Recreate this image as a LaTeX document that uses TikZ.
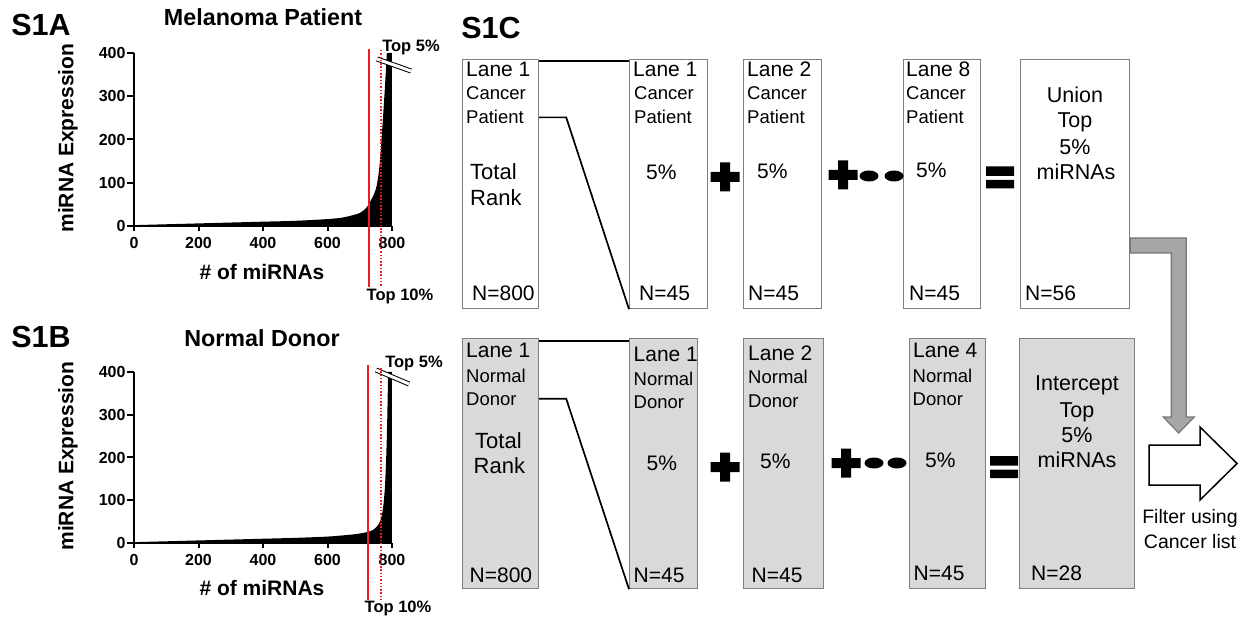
\documentclass[tikz,border=0pt]{standalone}
\usepackage{fontspec}
\setmainfont{Liberation Sans}
\definecolor{boxfill}{RGB}{217,217,217}
\definecolor{boxedge}{RGB}{127,127,127}
\definecolor{bendfill}{RGB}{166,166,166}
\definecolor{bendedge}{RGB}{118,118,118}
\definecolor{cutred}{RGB}{237,28,36}

\newcommand{\plusmark}[1]{\fill[shift={#1}] (-14.5,-5) rectangle (14.5,5) (-5,-14.5) rectangle (5,14.5);}
\newcommand{\eqmark}[1]{\fill[shift={#1}] (-14,-11) rectangle (14,-1.5) (-14,2.5) rectangle (14,11);}
\newcommand{\dotmark}[1]{\fill[shift={#1}] (0,0) ellipse [x radius=9.5, y radius=5.5];}

\begin{document}
\begin{tikzpicture}[x=1pt,y=-1pt,
  plotaxis/.style={line width=2pt},
  ticklbl/.style={font=\bfseries\fontsize{16}{16}\selectfont, inner sep=0},
  plotlbl/.style={font=\bfseries\fontsize{21}{21}\selectfont},
  plottitle/.style={font=\bfseries\fontsize{23.3}{24}\selectfont},
  panel/.style={font=\bfseries\fontsize{30.5}{31}\selectfont},
  toplbl/.style={font=\bfseries\fontsize{16.5}{17}\selectfont, inner sep=0},
  redline/.style={cutred, line width=2pt},
  reddots/.style={cutred, line width=1.5pt, dash pattern=on 1.5pt off 1.8pt},
  brk/.style={line width=1pt, double=white, double distance=3pt},
  cbox/.style={draw=boxedge, line width=1.2pt, fill=white, anchor=north west, inner sep=0},
  nbox/.style={cbox, fill=boxfill},
  lane/.style={anchor=base west, inner sep=0, font=\fontsize{21}{21}\selectfont},
  who/.style={anchor=base west, inner sep=0, font=\fontsize{18.5}{18.5}\selectfont},
  rank/.style={anchor=base west, inner sep=0, font=\fontsize{22}{22}\selectfont},
  pct/.style={anchor=base west, inner sep=0, font=\fontsize{21}{21}\selectfont},
  union/.style={anchor=base, inner sep=0, font=\fontsize{21.5}{21.5}\selectfont},
  link/.style={line width=1.7pt},
  grayturn/.style={draw=bendedge, fill=bendfill, line width=1.2pt},
  ]
\useasboundingbox (0,0) rectangle (1248,620);

% S1A
\node[panel] (pA) at (41,25) {S1A};
\node[plottitle] (hA) at (263,17) {Melanoma Patient};
\node[plotlbl, rotate=90] (yA) at (68,138) {miRNA Expression};
\node[plotlbl] (xA) at (262,272) {\# of miRNAs};
\begin{scope}[shift={(134,226)}, x=0.3225pt, y=0.4325pt]
  \fill plot[smooth, tension=0.5] coordinates {(0,2) (100,4) (200,6) (300,8) (400,10) (500,12) (600,16) (650,20) (700,30) (720,42) (730,53) (745,75) (753,95) (760,130) (766,183) (772,250) (778,320) (784,400)} -- (800,400) -- (800,0) -- (0,0) -- cycle;
  \draw[plotaxis] (0,400) -- (0,0) -- (800,0);
  \foreach \v in {0,100,...,400}
    \draw[plotaxis] (0,\v) -- ++(-7pt,0) node[left=0.5pt, ticklbl] (yA\v) {\v};
  \foreach \v in {0,200,...,800}
    \draw[plotaxis] (\v,0) -- ++(0,-5pt) node[below=5pt, ticklbl] (xA\v) {\v};
\end{scope}
\draw[brk] (377,59) -- (411,71);
\draw[redline] (369,49) -- (369,287);
\draw[reddots] (381,50) -- (381,287);
\node[toplbl] (fA) at (411,47) {Top 5\%};
\node[toplbl] (gA) at (400,296) {Top 10\%};

% S1B
\node[panel] (pB) at (41,337) {S1B};
\node[plottitle] (hB) at (262,338) {Normal Donor};
\node[plotlbl, rotate=90] (yB) at (68,456) {miRNA Expression};
\node[plotlbl] (xB) at (262,588) {\# of miRNAs};
\begin{scope}[shift={(134,543)}, x=0.3225pt, y=0.4275pt]
  \fill plot[smooth, tension=0.5] coordinates {(0,2) (100,4) (200,6) (300,8) (400,10) (500,12) (600,15) (650,18) (690,21) (720,25) (740,30) (755,40) (765,55) (772,80) (778,130) (782,200) (785,280) (788,400)} -- (800,400) -- (800,0) -- (0,0) -- cycle;
  \draw[plotaxis] (0,400) -- (0,0) -- (800,0);
  \foreach \v in {0,100,...,400}
    \draw[plotaxis] (0,\v) -- ++(-7pt,0) node[left=0.5pt, ticklbl] (yB\v) {\v};
  \foreach \v in {0,200,...,800}
    \draw[plotaxis] (\v,0) -- ++(0,-5pt) node[below=5pt, ticklbl] (xB\v) {\v};
\end{scope}
\draw[brk] (376,370) -- (409,384);
\draw[redline] (368,365) -- (368,600);
\draw[reddots] (381,368) -- (381,600);
\node[toplbl] (fB) at (414,363) {Top 5\%};
\node[toplbl] (gB) at (398,608) {Top 10\%};

% S1C
\node[panel] (pC) at (491,28) {S1C};

% cancer patient row
\node[cbox, minimum width=76, minimum height=249] (t1) at (462,59) {};
\node[cbox, minimum width=78, minimum height=249] (t2) at (629,59) {};
\node[cbox, minimum width=78, minimum height=249] (t3) at (743,59) {};
\node[cbox, minimum width=77, minimum height=249] (t4) at (903,59) {};
\node[cbox, minimum width=109, minimum height=249] (t5) at (1020,59) {};

\node[lane] (t1lane) at (466,77) {Lane 1};
\node[who] (t1who) at (466,100) {Cancer};
\node[who] (t1pat) at (466,124) {Patient};
\node[rank] (t1tot) at (470,180) {Total};
\node[rank] (t1rnk) at (470,206) {Rank};
\node[pct] (t1n) at (472,301) {N=800};

\node[lane] (t2lane) at (633,77) {Lane 1};
\node[who] (t2who) at (634,100) {Cancer};
\node[who] (t2pat) at (634,124) {Patient};
\node[pct] (t2pct) at (646,180) {5\%};
\node[pct] (t2n) at (639,301) {N=45};

\node[lane] (t3lane) at (747,77) {Lane 2};
\node[who] (t3who) at (747,100) {Cancer};
\node[who] (t3pat) at (747,124) {Patient};
\node[pct] (t3pct) at (757,179) {5\%};
\node[pct] (t3n) at (748,301) {N=45};

\node[lane] (t4lane) at (906,77) {Lane 8};
\node[who] (t4who) at (906,100) {Cancer};
\node[who] (t4pat) at (906,124) {Patient};
\node[pct] (t4pct) at (916,178) {5\%};
\node[pct] (t4n) at (909,301) {N=45};

\node[union] (t5a) at (1075,103) {Union};
\node[union] (t5b) at (1075,128) {Top};
\node[union] (t5c) at (1075,155) {5\%};
\node[union] (t5d) at (1076,180) {miRNAs};
\node[pct] (t5n) at (1025,301) {N=56};

\draw[link] ([yshift=-2pt]t1.north east) -- ([yshift=-2pt]t2.north west);
\draw[link] (t1.east |- t1pat) -- ++(27,0) -- (t2.south west);

\plusmark{(725,177)}
\plusmark{(843,175)}
\dotmark{(869,176)}
\dotmark{(894,176)}
\eqmark{(1000,177.5)}

% normal donor row
\node[nbox, minimum width=76, minimum height=250] (b1) at (462,338) {};
\node[nbox, minimum width=68, minimum height=250] (b2) at (629,338) {};
\node[nbox, minimum width=80, minimum height=250] (b3) at (743,338) {};
\node[nbox, minimum width=76, minimum height=250] (b4) at (909,338) {};
\node[nbox, minimum width=115, minimum height=250] (b5) at (1019,338) {};

\node[lane] (b1lane) at (466,358) {Lane 1};
\node[who] (b1who) at (466,382) {Normal};
\node[who] (b1don) at (466,405) {Donor};
\node[rank] (b1tot) at (475,448) {Total};
\node[rank] (b1rnk) at (473.5,473) {Rank};
\node[pct] (b1n) at (469.5,582) {N=800};

\node[lane] (b2lane) at (633.5,362) {Lane 1};
\node[who] (b2who) at (633.5,385) {Normal};
\node[who] (b2don) at (633.5,408) {Donor};
\node[pct] (b2pct) at (646.5,470) {5\%};
\node[pct] (b2n) at (633.5,582) {N=45};

\node[lane] (b3lane) at (748,360) {Lane 2};
\node[who] (b3who) at (748,383) {Normal};
\node[who] (b3don) at (748,407) {Donor};
\node[pct] (b3pct) at (760,468) {5\%};
\node[pct] (b3n) at (751.5,582) {N=45};

\node[lane] (b4lane) at (913,358) {Lane 4};
\node[who] (b4who) at (912.5,382) {Normal};
\node[who] (b4don) at (912.5,405) {Donor};
\node[pct] (b4pct) at (925,467) {5\%};
\node[pct] (b4n) at (913.5,580) {N=45};

\node[union] (b5a) at (1077,390) {Intercept};
\node[union] (b5b) at (1077,417) {Top};
\node[union] (b5c) at (1077,442) {5\%};
\node[union] (b5d) at (1077,467) {miRNAs};
\node[pct] (b5n) at (1031,580) {N=28};

\draw[link] ([yshift=-3pt]b1.north east) -- ([yshift=-3pt]b2.north west);
\draw[link] (b1.east |- b1don) -- ++(27,0) -- (b2.south west);

\plusmark{(725,467)}
\plusmark{(846,463)}
\dotmark{(874,463)}
\dotmark{(897,463)}
\eqmark{(1004,467)}

% filter step
\draw[grayturn] ([yshift=-179pt]t5.north east) -- ++(56,0) -- ++(0,179) -- ++(8,0) -- ++(-15.5,16) -- ++(-15.5,-16) -- ++(8,0) -- ++(0,-164) -- ++(-41,0) -- cycle;
\draw[line width=1.5pt, fill=white] (1149,445) -- (1200,445) -- (1200,427) -- (1237,463.5) -- (1200,500) -- (1200,485) -- (1149,485) -- cycle;
\node[font=\fontsize{19.5}{19.5}\selectfont, inner sep=0] (filt1) at (1190,518) {Filter using};
\node[font=\fontsize{19.5}{19.5}\selectfont, inner sep=0] (filt2) at (1190,542) {Cancer list};
\end{tikzpicture}
\end{document}
